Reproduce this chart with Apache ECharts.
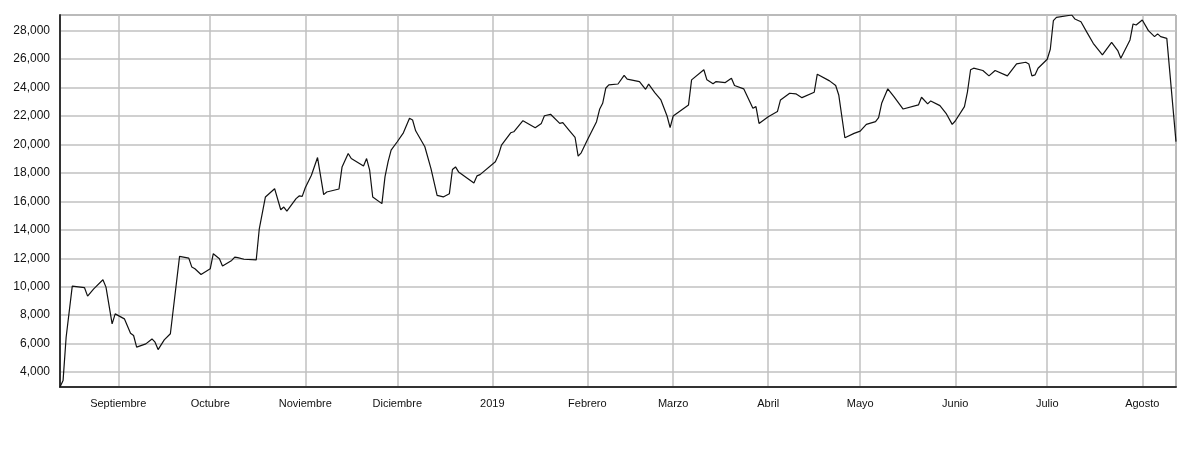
<!DOCTYPE html>
<html>
<head>
<meta charset="utf-8">
<title>Serie</title>
<script src="https://cdn.jsdelivr.net/npm/echarts@6/dist/echarts.min.js"></script>
<style>
  html, body { margin: 0; padding: 0; background: #fff; }
  #chart { width: 1200px; height: 450px; }
</style>
</head>
<body>
<div id="chart"></div>
<script>
// rango del eje x
var startDate = '2018-08-13';
var endDate = '2019-08-12';

var monthNames = ['Enero', 'Febrero', 'Marzo', 'Abril', 'Mayo', 'Junio', 'Julio',
  'Agosto', 'Septiembre', 'Octubre', 'Noviembre', 'Diciembre'];

var dates = [
  '2018-08-13', '2018-08-14', '2018-08-15', '2018-08-17', '2018-08-21', '2018-08-22',
  '2018-08-24', '2018-08-27', '2018-08-28', '2018-08-30', '2018-08-31',
  '2018-09-03', '2018-09-05', '2018-09-06', '2018-09-07', '2018-09-10', '2018-09-12',
  '2018-09-13', '2018-09-14', '2018-09-16', '2018-09-18', '2018-09-21', '2018-09-24',
  '2018-09-25', '2018-09-26', '2018-09-28',
  '2018-10-01', '2018-10-02', '2018-10-04', '2018-10-05', '2018-10-08', '2018-10-09',
  '2018-10-10', '2018-10-12', '2018-10-16', '2018-10-17', '2018-10-19', '2018-10-22',
  '2018-10-24', '2018-10-25', '2018-10-26', '2018-10-29', '2018-10-30', '2018-10-31',
  '2018-11-01', '2018-11-03', '2018-11-05', '2018-11-07', '2018-11-08', '2018-11-12',
  '2018-11-13', '2018-11-15', '2018-11-16', '2018-11-20', '2018-11-21', '2018-11-22',
  '2018-11-23', '2018-11-26', '2018-11-27', '2018-11-28', '2018-11-29',
  '2018-12-01', '2018-12-03', '2018-12-05', '2018-12-06', '2018-12-07', '2018-12-10',
  '2018-12-12', '2018-12-14', '2018-12-16', '2018-12-18', '2018-12-19', '2018-12-20',
  '2018-12-21', '2018-12-26', '2018-12-27', '2018-12-28',
  '2019-01-02', '2019-01-03', '2019-01-04', '2019-01-07', '2019-01-08', '2019-01-11',
  '2019-01-15', '2019-01-17', '2019-01-18', '2019-01-20', '2019-01-23', '2019-01-24',
  '2019-01-26', '2019-01-28', '2019-01-29', '2019-01-30',
  '2019-02-01', '2019-02-04', '2019-02-05', '2019-02-06', '2019-02-07', '2019-02-08',
  '2019-02-11', '2019-02-13', '2019-02-14', '2019-02-18', '2019-02-20', '2019-02-21',
  '2019-02-23', '2019-02-25', '2019-02-27', '2019-02-28',
  '2019-03-01', '2019-03-06', '2019-03-07', '2019-03-11', '2019-03-12', '2019-03-14',
  '2019-03-15', '2019-03-18', '2019-03-20', '2019-03-21', '2019-03-24', '2019-03-27',
  '2019-03-28', '2019-03-29',
  '2019-04-01', '2019-04-04', '2019-04-05', '2019-04-08', '2019-04-10', '2019-04-12',
  '2019-04-16', '2019-04-17', '2019-04-21', '2019-04-23', '2019-04-24', '2019-04-26',
  '2019-04-29',
  '2019-05-01', '2019-05-03', '2019-05-06', '2019-05-07', '2019-05-08', '2019-05-10',
  '2019-05-12', '2019-05-15', '2019-05-20', '2019-05-21', '2019-05-23', '2019-05-24',
  '2019-05-27', '2019-05-29', '2019-05-31',
  '2019-06-01', '2019-06-04', '2019-06-05', '2019-06-06', '2019-06-07', '2019-06-10',
  '2019-06-12', '2019-06-14', '2019-06-18', '2019-06-21', '2019-06-24', '2019-06-25',
  '2019-06-26', '2019-06-27', '2019-06-28',
  '2019-07-01', '2019-07-02', '2019-07-03', '2019-07-04', '2019-07-09', '2019-07-10',
  '2019-07-12', '2019-07-14', '2019-07-16', '2019-07-19', '2019-07-22', '2019-07-24',
  '2019-07-25', '2019-07-28', '2019-07-29', '2019-07-30',
  '2019-08-01', '2019-08-03', '2019-08-05', '2019-08-06', '2019-08-07', '2019-08-09',
  '2019-08-12'
];

var values = [
  2950, 3400, 6450, 10040, 9930, 9340,
  9850, 10490, 9970, 7390, 8090,
  7740, 6730, 6570, 5750, 5980, 6330,
  6100, 5580, 6260, 6690, 12130, 12010,
  11380, 11260, 10860,
  11260, 12320, 11970, 11450, 11850, 12080,
  12040, 11930, 11880, 14070, 16310, 16890,
  15410, 15600, 15320, 16190, 16380, 16350,
  16960, 17840, 19080, 16470, 16660, 16870,
  18420, 19360, 19010, 18490, 19010, 18190,
  16310, 15840, 17720, 18780, 19600,
  20190, 20820, 21840, 21720, 20960, 19840,
  18300, 16420, 16310, 16540, 18240, 18420,
  18070, 17290, 17790, 17880,
  18780, 19250, 19950, 20820, 20890, 21670,
  21180, 21480, 22020, 22120, 21480, 21530,
  21010, 20490, 19180, 19410,
  20310, 21600, 22470, 22890, 23950, 24190,
  24250, 24850, 24590, 24420, 23880, 24240,
  23650, 23130, 22000, 21180,
  22000, 22780, 24540, 25250, 24540, 24260,
  24420, 24350, 24660, 24140, 23910, 22540,
  22660, 21480,
  21950, 22310, 23130, 23600, 23560, 23290,
  23670, 24940, 24470, 24140, 23480, 20470,
  20780,
  20940, 21410, 21600, 21880, 22890, 23910,
  23360, 22490, 22780, 23320, 22850, 23060,
  22730, 22190, 21410,
  21650, 22660, 23720, 25250, 25360, 25200,
  24820, 25200, 24820, 25660, 25780, 25660,
  24820, 24890, 25360,
  25990, 26690, 28700, 28930, 29100, 28820,
  28630, 27860, 27110, 26290, 27180, 26600,
  26060, 27350, 28470, 28400,
  28750, 28000, 27580, 27770, 27580, 27460,
  20200
];

var seriesData = dates.map(function (d, i) { return [d, values[i]]; });

var myChart = echarts.init(document.getElementById('chart'));

myChart.setOption({
  animation: false,
  grid: {
    left: 60,
    right: 24,
    top: 15,
    bottom: 63,
    show: true,
    borderColor: '#555',
    borderWidth: 1
  },
  xAxis: {
    type: 'time',
    min: startDate,
    max: endDate,
    minInterval: 28 * 24 * 3600 * 1000,
    maxInterval: 31 * 24 * 3600 * 1000,
    axisLine: { lineStyle: { color: '#333', width: 2 } },
    axisTick: { show: false },
    splitLine: { show: true, lineStyle: { color: '#c0c0c0', width: 1.5 } },
    axisLabel: {
      color: '#111',
      fontFamily: 'Arial, Liberation Sans, sans-serif',
      fontSize: 11,
      fontWeight: 'normal',
      margin: 11,
      formatter: function (val) {
        var d = new Date(val);
        if (d.getMonth() === 0) return String(d.getFullYear());
        return monthNames[d.getMonth()];
      }
    }
  },
  yAxis: {
    type: 'value',
    min: 'dataMin',
    max: 'dataMax',
    splitNumber: 13,
    minInterval: 2000,
    maxInterval: 2000,
    axisLine: { show: true, lineStyle: { color: '#333', width: 2 } },
    axisTick: { show: false },
    splitLine: { lineStyle: { color: '#c0c0c0', width: 1.5 } },
    axisLabel: {
      color: '#111',
      fontFamily: 'Arial, Liberation Sans, sans-serif',
      fontSize: 12,
      margin: 10,
      showMinLabel: false,
      showMaxLabel: false,
      formatter: function (v) { return v.toLocaleString('en-US'); }
    }
  },
  series: [
    {
      name: 'valor',
      type: 'line',
      data: seriesData,
      showSymbol: false,
      lineStyle: { color: '#111', width: 1.2 }
    }
  ]
});
</script>
</body>
</html>
